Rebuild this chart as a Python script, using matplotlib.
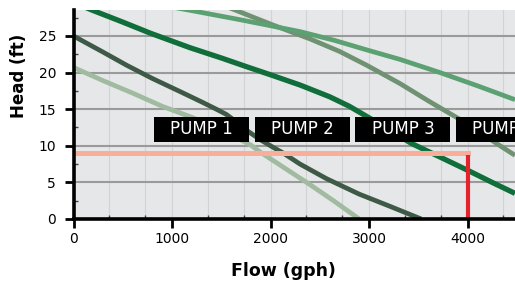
import matplotlib.pyplot as plt
from matplotlib.patches import Rectangle

# pump curves (flow in gph, head in ft)
flow_p1 = [0, 300, 600, 900, 1200, 1500, 1800, 1900, 2150, 2400, 2650, 2900]
head_p1 = [20.7, 18.9, 17.2, 15.4, 13.9, 12.2, 10.1, 9.1, 6.9, 4.7, 2.4, 0]

flow_p2 = [0, 300, 540, 800, 1083, 1300, 1450, 1550, 1650, 1780, 1900, 2000, 2130, 2300, 2570, 2900, 3200, 3530]
head_p2 = [25, 22.8, 21.0, 19.2, 17.4, 16.0, 15.0, 14.3, 13.3, 11.9, 10.8, 10.0, 9.0, 7.5, 5.5, 3.4, 1.8, 0]

flow_p3 = [0, 185, 500, 777, 1000, 1183, 1500, 1758, 2000, 2300, 2600, 2800, 3010, 3200, 3434, 3700, 4025, 4250, 4482]
head_p3 = [29.6, 28.55, 26.9, 25.4, 24.3, 23.4, 22.0, 20.8, 19.7, 18.3, 16.7, 15.4, 13.75, 12.2, 10.3, 8.6, 6.5, 5.0, 3.5]

flow_p4 = [1000, 1640, 2025, 2401, 2700, 2977, 3315, 3619, 3924, 4100, 4296, 4482]
head_p4 = [31.9, 28.55, 26.5, 24.6, 22.9, 21.0, 18.5, 16.0, 13.6, 12.1, 10.3, 8.7]

flow_p5 = [0, 600, 1166, 1700, 2300, 2650, 2977, 3315, 3721, 4100, 4482]
head_p5 = [31.4, 29.9, 28.55, 27.2, 25.6, 24.4, 23.1, 21.8, 20.0, 18.2, 16.3]

duty_flow = 4000
duty_head = 9

pump_labels = ["PUMP 1", "PUMP 2", "PUMP 3", "PUMP 4"]
x_ticks = [0, 1000, 2000, 3000, 4000]
y_ticks = [0, 5, 10, 15, 20, 25]

W, H = 515, 282
fig = plt.figure(figsize=(W / 100, H / 100), dpi=100)
ax = fig.add_axes([73.5 / W, 1 - 219 / H, 1 - 73.5 / W, 209 / H])
ax.set_facecolor('#e6e7e9')

ax.plot(flow_p1, head_p1, color='#a0bba0', lw=3.4, solid_capstyle='butt', zorder=3)
ax.plot(flow_p2, head_p2, color='#3e5946', lw=3.4, solid_capstyle='butt', zorder=3)
ax.plot(flow_p3, head_p3, color='#0f6e3a', lw=3.8, solid_capstyle='butt', zorder=3)
ax.plot(flow_p4, head_p4, color='#6e9272', lw=3.4, solid_capstyle='butt', zorder=3)
ax.plot(flow_p5, head_p5, color='#5ba172', lw=3.4, solid_capstyle='butt', zorder=3)

# duty point
ax.plot([0, duty_flow], [duty_head, duty_head], color='#f8ae98', lw=3.6,
        solid_capstyle='projecting', zorder=4)
ax.plot([duty_flow, duty_flow], [0, duty_head - 0.3], color='#e4222b', lw=3,
        solid_capstyle='butt', zorder=4)

ax.set_xlim(0, 4482)
ax.set_ylim(0, 28.55)
ax.set_xticks(x_ticks)
ax.set_yticks(y_ticks)
minor_x = [m + d for m in x_ticks for d in (365, 730) if m + d < 4482]
ax.set_xticks(minor_x, minor=True)
ax.set_yticks([2.5, 7.5, 12.5, 17.5, 22.5, 27.5], minor=True)

ax.grid(axis='y', which='major', color='#9a9a9a', lw=1.5, zorder=1)
ax.grid(axis='x', which='both', color='#d2d3d5', lw=0.8, zorder=1)
ax.set_axisbelow(True)

for s in ['top', 'right']:
    ax.spines[s].set_visible(False)
for s in ['left', 'bottom']:
    ax.spines[s].set_linewidth(2.6)
    ax.spines[s].set_zorder(6)

ax.tick_params(which='major', length=6.5, width=2, direction='out',
               labelsize=10, pad=3)
ax.tick_params(axis='y', which='major', pad=6)
ax.tick_params(which='minor', length=3, width=1, direction='in', color='#444444')

fig.text(19.5 / W, 1 - 76 / H, 'Head (ft)', rotation=90, ha='center', va='center',
         fontsize=12, fontweight='bold')
fig.text(283 / W, 1 - 270.5 / H, 'Flow (gph)', ha='center', va='center',
         fontsize=12.5, fontweight='bold')

# pump selector tabs
box_w, box_top, box_bot = 95, 116.7, 142.3
for i, label in enumerate(pump_labels):
    left = 154 + i * 100.7
    fig.add_artist(Rectangle((left / W, 1 - box_bot / H), box_w / W,
                             (box_bot - box_top) / H, transform=fig.transFigure,
                             facecolor='black', edgecolor='none', zorder=10))
    fig.text((left + box_w / 2) / W, 1 - (box_top + box_bot) / 2 / H, label,
             ha='center', va='center', color='white', fontsize=12, zorder=11)

fig.savefig('out.png', dpi=100)
